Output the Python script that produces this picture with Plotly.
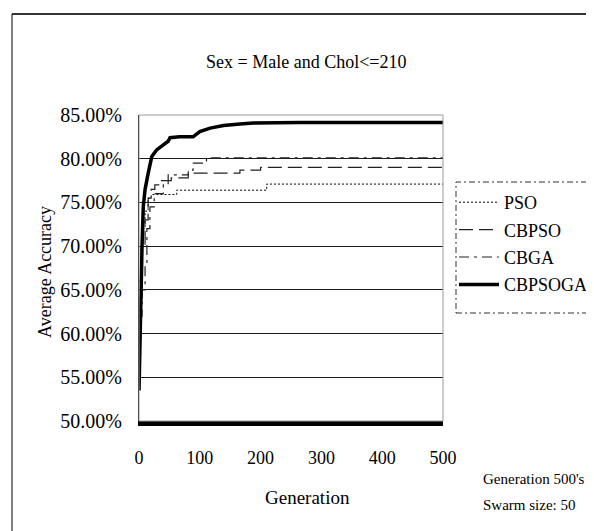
import plotly.graph_objects as go

# ---- data ----
pso_gen = [0, 3, 6, 10, 15, 20, 62, 210, 500]
pso_acc = [66.0, 70.0, 72.0, 74.0, 75.5, 75.9, 76.4, 77.1, 77.1]

cbpso_gen = [0, 5, 10, 15, 20, 26, 35, 53, 81, 166, 200, 500]
cbpso_acc = [64.0, 70.0, 73.0, 75.5, 76.5, 77.0, 77.5, 77.8, 78.35, 78.7, 79.0, 79.0]

cbga_gen = [0, 5, 10, 13, 18, 25, 40, 48, 81, 89, 111, 500]
cbga_acc = [62.0, 65.0, 68.0, 72.0, 74.5, 76.0, 77.0, 78.15, 78.7, 79.5, 80.1, 80.1]

cbpsoga_gen = [0, 1, 2, 3, 5, 7, 10, 15, 21, 29, 37, 48, 51, 67, 89, 100, 117, 139, 166, 188, 265, 350, 500]
cbpsoga_acc = [53.5, 58.0, 63.0, 66.5, 70.0, 74.5, 76.5, 78.3, 80.25, 81.0, 81.4, 82.0, 82.4, 82.5, 82.5,
               83.1, 83.5, 83.8, 83.97, 84.08, 84.15, 84.15, 84.15]

y_ticks = [50, 55, 60, 65, 70, 75, 80, 85]
x_ticks = [0, 100, 200, 300, 400, 500]

FONT = "Liberation Serif, Times New Roman, serif"

fig = go.Figure()
fig.add_trace(go.Scatter(x=pso_gen, y=pso_acc, name="PSO", mode="lines", line_shape="hv",
                         line=dict(color="black", width=1, dash="2px,2px"), legendgroup="a"))
fig.add_trace(go.Scatter(x=cbpso_gen, y=cbpso_acc, name="CBPSO", mode="lines", line_shape="hv",
                         line=dict(color="#222", width=1.2, dash="14px,6px"), legendgroup="b"))
fig.add_trace(go.Scatter(x=cbga_gen, y=cbga_acc, name="CBGA", mode="lines", line_shape="hv",
                         line=dict(color="#222", width=1.2, dash="10px,5px,3px,5px"), legendgroup="c"))
fig.add_trace(go.Scatter(x=cbpsoga_gen, y=cbpsoga_acc, name="CBPSOGA", mode="lines",
                         line=dict(color="black", width=3.5), legendgroup="d"))

OFF = 8  # default page body margin
W, H = 594 - OFF, 531 - OFF
L, R, T, B = 131, 151, 107, 110
PW, PH = W - L - R, H - T - B


def px(xw):
    return (xw - OFF - L) / PW


def py(yw):
    return (H - B - (yw - OFF)) / PH


shapes = [
    dict(type="rect", xref="paper", yref="paper", x0=0, x1=1, y0=0, y1=1,
         line=dict(color="#9a9a9a", width=1), layer="above"),
    dict(type="line", xref="paper", yref="paper", x0=px(12), x1=px(600), y0=py(14), y1=py(14),
         line=dict(color="#333", width=2)),
    dict(type="line", xref="paper", yref="paper", x0=px(12), x1=px(12), y0=py(14), y1=py(540),
         line=dict(color="black", width=1)),
    dict(type="rect", xref="paper", yref="paper", x0=px(456), x1=px(610), y0=py(313), y1=py(182),
         line=dict(color="#333", width=1, dash="6px,3px,2px,3px")),
]


def ann(text, xw, yw, size, xanchor="center", angle=0):
    return dict(text=text, xref="paper", yref="paper", x=px(xw), y=py(yw), xanchor=xanchor,
                yanchor="middle", textangle=angle, showarrow=False,
                font=dict(family=FONT, size=size, color="black"))


annotations = [
    ann("Sex = Male and Chol<=210", 306, 62, 18),
    ann("Average Accuracy", 45, 272, 18, angle=-90),
    ann("Generation", 307, 497, 19),
    ann("Generation 500's", 481, 479, 15, xanchor="left"),
    ann("Swarm size: 50", 481, 505, 15, xanchor="left"),
]

fig.update_layout(
    width=W, height=H,
    margin=dict(l=L, r=R, t=T, b=B, autoexpand=False),
    paper_bgcolor="white", plot_bgcolor="white",
    font=dict(family=FONT, size=17, color="black"),
    showlegend=True,
    legend=dict(x=px(454), y=py(184), xanchor="left", yanchor="top",
                font=dict(family=FONT, size=18, color="black"),
                bgcolor="rgba(0,0,0,0)", borderwidth=0,
                traceorder="grouped", tracegroupgap=1, itemwidth=40),
    shapes=shapes,
    annotations=annotations,
    xaxis=dict(range=[0, 500], tickvals=x_ticks, showgrid=False, zeroline=False,
               showline=True, linecolor="black", linewidth=5, ticks="",
               ticklabelstandoff=16, tickfont=dict(family=FONT, size=18)),
    yaxis=dict(range=[50, 85], tickvals=y_ticks, ticktext=[f"{v:.2f}%" for v in y_ticks],
               showgrid=True, gridcolor="#1a1a1a", gridwidth=1, zeroline=False,
               showline=True, linecolor="black", linewidth=1, ticks="",
               ticklabelstandoff=12, tickfont=dict(family=FONT, size=20)),
)

fig.write_html("out.html")
